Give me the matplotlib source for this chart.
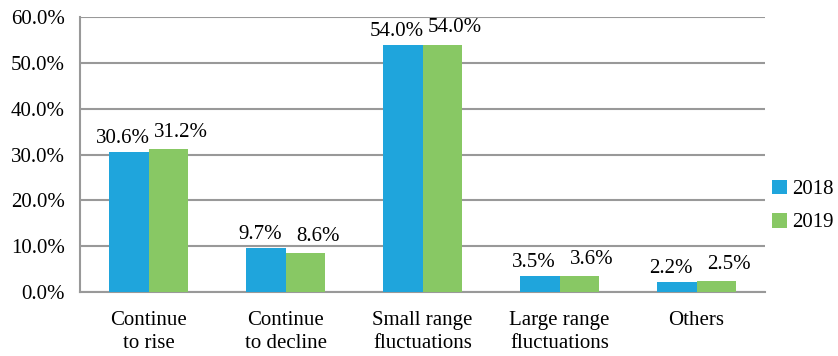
import numpy as np
import matplotlib
matplotlib.use("Agg")
import matplotlib.pyplot as plt

categories = ["Continue\nto rise", "Continue\nto decline", "Small range\nfluctuations",
              "Large range\nfluctuations", "Others"]
series_names = ["2018", "2019"]
values_2018 = [30.6, 9.7, 54.0, 3.5, 2.2]
values_2019 = [31.2, 8.6, 54.0, 3.6, 2.5]
yticks = [0, 10, 20, 30, 40, 50, 60]

colors = ["#1fa5dc", "#88c864"]
fs = 15
# label shift (pixels) so the two value labels of a group don't collide
label_dx = [-6, 13]
label_dy = [9, 12]

plt.rcParams["font.family"] = ["Liberation Serif", "DejaVu Serif"]

fig = plt.figure(figsize=(8.38, 3.56), dpi=100)
ax = fig.add_axes([80 / 838, 1 - 292 / 356, 685 / 838, 275 / 356])

x = np.arange(len(categories))
w = 0.285
for i, (vals, name) in enumerate(zip([values_2018, values_2019], series_names)):
    b = ax.bar(x + (i - 0.5) * w, vals, w, color=colors[i], label=name, zorder=3)
    for rect, v in zip(b, vals):
        ax.annotate("%.1f%%" % v, (rect.get_x() + rect.get_width() / 2, rect.get_height()),
                    xytext=(label_dx[i], label_dy[i]), textcoords="offset pixels",
                    ha="center", va="baseline", fontsize=fs)

ax.set_xlim(-0.5, len(categories) - 0.5)
ax.set_ylim(0, 60)
ax.set_yticks(yticks)
ax.set_yticklabels(["%.1f%%" % t for t in yticks], fontsize=fs)
ax.set_xticks(x)
ax.set_xticklabels(categories, fontsize=fs, linespacing=1.25)
ax.tick_params(axis="both", length=0)
ax.tick_params(axis="x", pad=14)
ax.tick_params(axis="y", pad=11)

ax.grid(axis="y", color="#999999", linewidth=1.5, zorder=0)
for s in ["top", "right"]:
    ax.spines[s].set_visible(False)
ax.spines["left"].set_color("#999999")
ax.spines["left"].set_linewidth(1.5)
ax.spines["bottom"].set_color("#999999")
ax.spines["bottom"].set_linewidth(1.5)

ax.legend(loc="center left", bbox_to_anchor=(772 / 838, 1 - 206 / 356),
          bbox_transform=fig.transFigure, frameon=False, fontsize=fs,
          handlelength=0.72, handleheight=0.72, handletextpad=0.25, labelspacing=0.65,
          borderaxespad=0, borderpad=0)

fig.savefig("out.png", dpi=100)
